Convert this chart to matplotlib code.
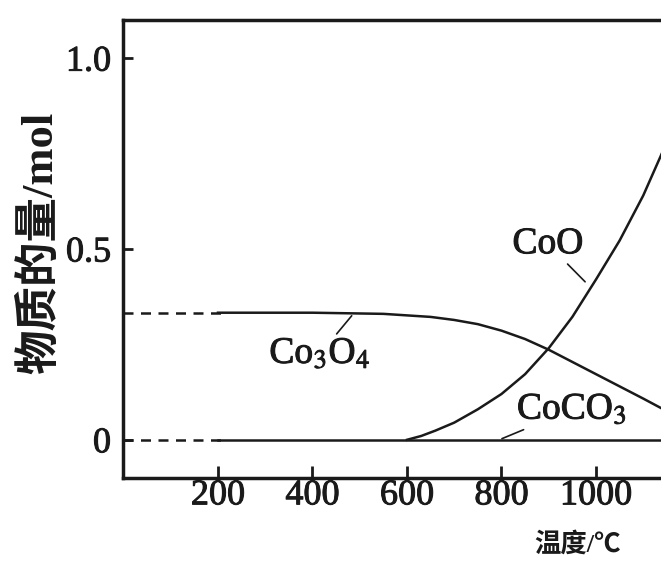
import matplotlib
matplotlib.use('Agg')
import matplotlib.pyplot as plt
import matplotlib.patheffects as pe

# temperature (deg C) and amount of substance (mol)
co3o4_temp = [200, 400, 550, 650, 700, 750, 800, 850, 900, 950, 1000, 1050, 1100, 1150]
co3o4_mol = [0.333, 0.333, 0.330, 0.322, 0.314, 0.303, 0.286, 0.264, 0.236, 0.204, 0.172, 0.140, 0.108, 0.075]

coo_temp = [600, 630, 660, 700, 750, 800, 850, 900, 950, 1000, 1050, 1100, 1150]
coo_mol = [0.0, 0.010, 0.024, 0.045, 0.080, 0.120, 0.172, 0.240, 0.322, 0.420, 0.522, 0.640, 0.780]

coco3_temp = [200, 1150]
coco3_mol = [0.0, 0.0]

# extrapolated (dashed) part below 200 deg C
dash_temp = [0, 210]
dash_co3o4 = [0.333, 0.333]
dash_zero = [0.0, 0.0]

x_ticks = [200, 400, 600, 800, 1000]
y_ticks = [0, 0.5, 1.0]
y_tick_labels = ['0', '0.5', '1.0']

plt.rcParams['mathtext.fontset'] = 'stix'
serif = ['Liberation Serif', 'Noto Sans CJK SC']
ink = '#1a1a1a'
thick = [pe.withStroke(linewidth=0.7, foreground=ink)]

fig = plt.figure(figsize=(6.61, 5.61), dpi=100)
ax = fig.add_axes([0.1868, 0.148, 0.8578, 0.8164])

ax.plot(co3o4_temp, co3o4_mol, c=ink, lw=1.8)
ax.plot(coo_temp, coo_mol, c=ink, lw=1.8)
ax.plot(coco3_temp, coco3_mol, c=ink, lw=1.8)
ax.plot(dash_temp, dash_co3o4, c=ink, lw=1.8, linestyle=(0, (4, 3)))
ax.plot(dash_temp, dash_zero, c=ink, lw=1.8, linestyle=(0, (4, 3)))

ax.set_xlim(0, 1200)
ax.set_ylim(-0.1, 1.1)

label_kw = dict(fontsize=27, family=serif, ha='center', va='center', color=ink,
                path_effects=thick,
                arrowprops=dict(arrowstyle='-', color=ink, lw=1.2, shrinkA=0, shrinkB=0))
ax.annotate('CoO', xy=(977, 0.414), xytext=(898, 0.513), **label_kw)
ax.annotate('Co$_3$O$_4$', xy=(483, 0.325), xytext=(416, 0.225), **label_kw)
ax.annotate('CoCO$_3$', xy=(801, 0.003), xytext=(949, 0.079), **label_kw)

for side in ['left', 'bottom', 'top']:
    ax.spines[side].set_linewidth(2.5)
    ax.spines[side].set_color(ink)
ax.spines['right'].set_visible(False)

ax.set_xticks(x_ticks)
ax.set_yticks(y_ticks)
ax.set_yticklabels(y_tick_labels)
ax.tick_params(axis='y', direction='in', length=7, width=2, pad=9, labelsize=26, color=ink)
ax.tick_params(axis='x', direction='in', length=9, width=2, pad=1, labelsize=26, color=ink)
for lab in ax.get_xticklabels() + ax.get_yticklabels():
    lab.set_family(serif)
    lab.set_color(ink)
    lab.set_path_effects(thick)

fig.text(40 / 661, 1 - 243 / 561, '物质的量/mol', rotation=90, ha='center', va='center',
         fontsize=32, family=serif, weight='bold', color=ink)
fig.text(578 / 661, 1 - 544 / 561, '温度/℃', ha='center', va='center',
         fontsize=19, family=serif, weight='bold', color=ink)

fig.savefig('out.png', dpi=100)
